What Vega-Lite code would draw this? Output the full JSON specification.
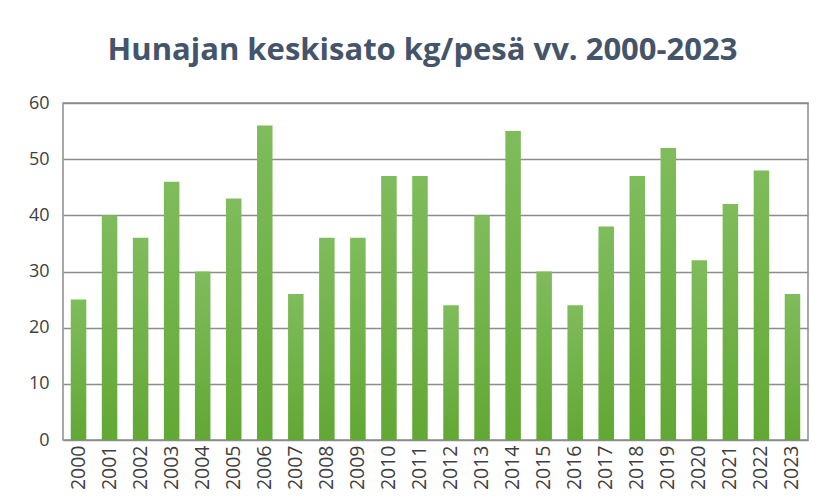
{
  "$schema": "https://vega.github.io/schema/vega-lite/v6.json",
  "autosize": "none",
  "width": 745,
  "height": 337,
  "padding": {"left": 63, "top": 103, "right": 18, "bottom": 62},
  "background": "white",
  "title": {
    "text": "Hunajan keskisato kg/pesä vv. 2000-2023",
    "font": "Open Sans",
    "fontSize": 31,
    "fontWeight": "bold",
    "color": "#44546A",
    "offset": 27,
    "dx": -13
  },
  "data": {
    "values": [
      {"year": "2000", "kg": 25}, {"year": "2001", "kg": 40}, {"year": "2002", "kg": 36},
      {"year": "2003", "kg": 46}, {"year": "2004", "kg": 30}, {"year": "2005", "kg": 43},
      {"year": "2006", "kg": 56}, {"year": "2007", "kg": 26}, {"year": "2008", "kg": 36},
      {"year": "2009", "kg": 36}, {"year": "2010", "kg": 47}, {"year": "2011", "kg": 47},
      {"year": "2012", "kg": 24}, {"year": "2013", "kg": 40}, {"year": "2014", "kg": 55},
      {"year": "2015", "kg": 30}, {"year": "2016", "kg": 24}, {"year": "2017", "kg": 38},
      {"year": "2018", "kg": 47}, {"year": "2019", "kg": 52}, {"year": "2020", "kg": 32},
      {"year": "2021", "kg": 42}, {"year": "2022", "kg": 48}, {"year": "2023", "kg": 26}
    ]
  },
  "mark": {
    "type": "bar",
    "color": {
      "x1": 0, "y1": 0, "x2": 0, "y2": 1,
      "gradient": "linear",
      "stops": [{"offset": 0, "color": "#7FBC5C"}, {"offset": 1, "color": "#62A834"}]
    }
  },
  "encoding": {
    "x": {
      "field": "year", "type": "ordinal",
      "scale": {"paddingInner": 0.5, "paddingOuter": 0.25},
      "axis": {
        "title": null, "labelAngle": -90, "labelFontSize": 19.5, "labelFont": "Open Sans",
        "labelColor": "#404040", "ticks": false, "domain": false, "labelPadding": 5,
        "labelBaseline": "middle", "labelAlign": "right"
      }
    },
    "y": {
      "field": "kg", "type": "quantitative",
      "scale": {"domain": [0, 60]},
      "axis": {
        "title": null, "values": [0, 10, 20, 30, 40, 50, 60], "labelFontSize": 18,
        "labelFont": "Open Sans", "labelColor": "#404040", "ticks": false, "domain": false,
        "labelPadding": 14, "gridColor": "#8C8C8C", "gridWidth": 1.5, "gridOpacity": 1
      }
    }
  },
  "config": {
    "view": {"stroke": "#8C8C8C", "strokeWidth": 1.5}
  }
}
